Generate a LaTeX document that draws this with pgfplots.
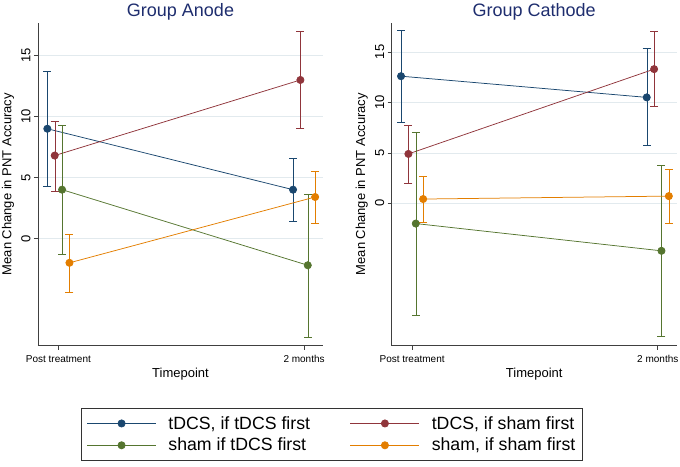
\documentclass[border=0pt]{standalone}
\usepackage{pgfplots}
\pgfplotsset{compat=1.18}
\usepackage{fontspec}
\setmainfont{Liberation Sans}
\definecolor{snavy}{RGB}{26,71,111}
\definecolor{smaroon}{RGB}{144,53,59}
\definecolor{sgreen}{RGB}{85,117,47}
\definecolor{sorange}{RGB}{227,126,0}
\definecolor{titlec}{RGB}{30,45,110}
\definecolor{gridc}{RGB}{226,234,238}

\pgfplotsset{
 myaxis/.style={
  scale only axis, width=285pt, height=323pt,
  anchor=south west,
  xmin=-0.083, xmax=1.077,
  axis x line*=bottom, axis y line*=left,
  axis line style={-, black!75, line width=0.6pt},
  tick align=outside, major tick length=4pt,
  tick style={black!75, line width=0.6pt},
  xtick={0,1}, xticklabels={Post treatment, 2 months},
  xticklabel style={font=\fontsize{10}{12}\selectfont, yshift=-2pt},
  ytick={0,5,10,15},
  yticklabel style={rotate=90, anchor=south, font=\fontsize{13}{15}\selectfont},
  /pgf/number format/assume math mode=true,
  ymajorgrids, grid style={gridc, line width=0.6pt},
  xlabel={Timepoint}, ylabel={Mean Change in PNT Accuracy},
  xlabel style={font=\fontsize{13}{15}\selectfont, at={(axis description cs:0.5,-0.0988)}, anchor=base},
  ylabel style={font=\fontsize{13}{15}\selectfont, at={(axis description cs:-0.105,0.5)}, anchor=center},
  every axis title shift=0pt,
  title style={font=\fontsize{18}{21}\selectfont, color=titlec, at={(axis description cs:0.5,1.0207)}, anchor=base},
  error bars/y dir=both, error bars/y explicit,
  error bars/error mark options={rotate=90, mark size=4pt, line width=0.75pt},
  every axis plot/.append style={line width=0.75pt, mark=*, mark size=3.6pt},
 },
}

\begin{document}
\begin{tikzpicture}
\useasboundingbox (0pt,0pt) rectangle (680pt,466pt);

\begin{axis}[myaxis, at={(38pt,120.3pt)},
  ymin=-8.8, ymax=17.7,
  title={Group Anode},
  legend columns=2,
  legend cell align=left,
  legend style={at={(axis description cs:0.1533,-0.1938)}, anchor=north west,
    draw=black!80, line width=0.6pt, font=\fontsize{17.7}{21}\selectfont,
    inner xsep=5pt, inner ysep=6pt, outer sep=0pt,
    /tikz/every even column/.append style={column sep=38pt},
    /tikz/every odd column/.append style={column sep=10pt},
    row sep=3.5pt},
  legend image code/.code={\draw[mark repeat=2, mark phase=2, #1] plot coordinates {(0pt,0pt) (34.5pt,0pt) (69pt,0pt)};},
]
\addplot[snavy, mark options={fill=snavy}] coordinates {
  (-0.045,9.0) += (0,4.7) -= (0,4.7)
  (0.955,4.0) += (0,2.6) -= (0,2.6)
};
\addlegendentry{tDCS, if tDCS first}
\addplot[smaroon, mark options={fill=smaroon}] coordinates {
  (-0.015,6.8) += (0,2.8) -= (0,2.9)
  (0.985,13.0) += (0,4.0) -= (0,4.0)
};
\addlegendentry{tDCS, if sham first\hspace{19pt}}
\addplot[sgreen, mark options={fill=sgreen}] coordinates {
  (0.015,4.0) += (0,5.3) -= (0,5.3)
  (1.015,-2.2) += (0,5.8) -= (0,5.9)
};
\addlegendentry{sham if tDCS first}
\addplot[sorange, mark options={fill=sorange}] coordinates {
  (0.045,-2.0) += (0,2.35) -= (0,2.4)
  (1.045,3.4) += (0,2.1) -= (0,2.2)
};
\addlegendentry{sham, if sham first\hspace{19pt}}
\end{axis}

\begin{axis}[myaxis, at={(391.7pt,120.3pt)},
  ymin=-14.1, ymax=17.9,
  title={Group Cathode},
]
\addplot[snavy, mark options={fill=snavy}] coordinates {
  (-0.045,12.6) += (0,4.5) -= (0,4.6)
  (0.955,10.5) += (0,4.9) -= (0,4.8)
};
\addplot[smaroon, mark options={fill=smaroon}] coordinates {
  (-0.015,4.9) += (0,2.8) -= (0,2.9)
  (0.985,13.3) += (0,3.7) -= (0,3.7)
};
\addplot[sgreen, mark options={fill=sgreen}] coordinates {
  (0.015,-2.0) += (0,9.0) -= (0,9.1)
  (1.015,-4.7) += (0,8.5) -= (0,8.5)
};
\addplot[sorange, mark options={fill=sorange}] coordinates {
  (0.045,0.43) += (0,2.27) -= (0,2.33)
  (1.045,0.72) += (0,2.68) -= (0,2.72)
};
\end{axis}
\end{tikzpicture}
\end{document}
